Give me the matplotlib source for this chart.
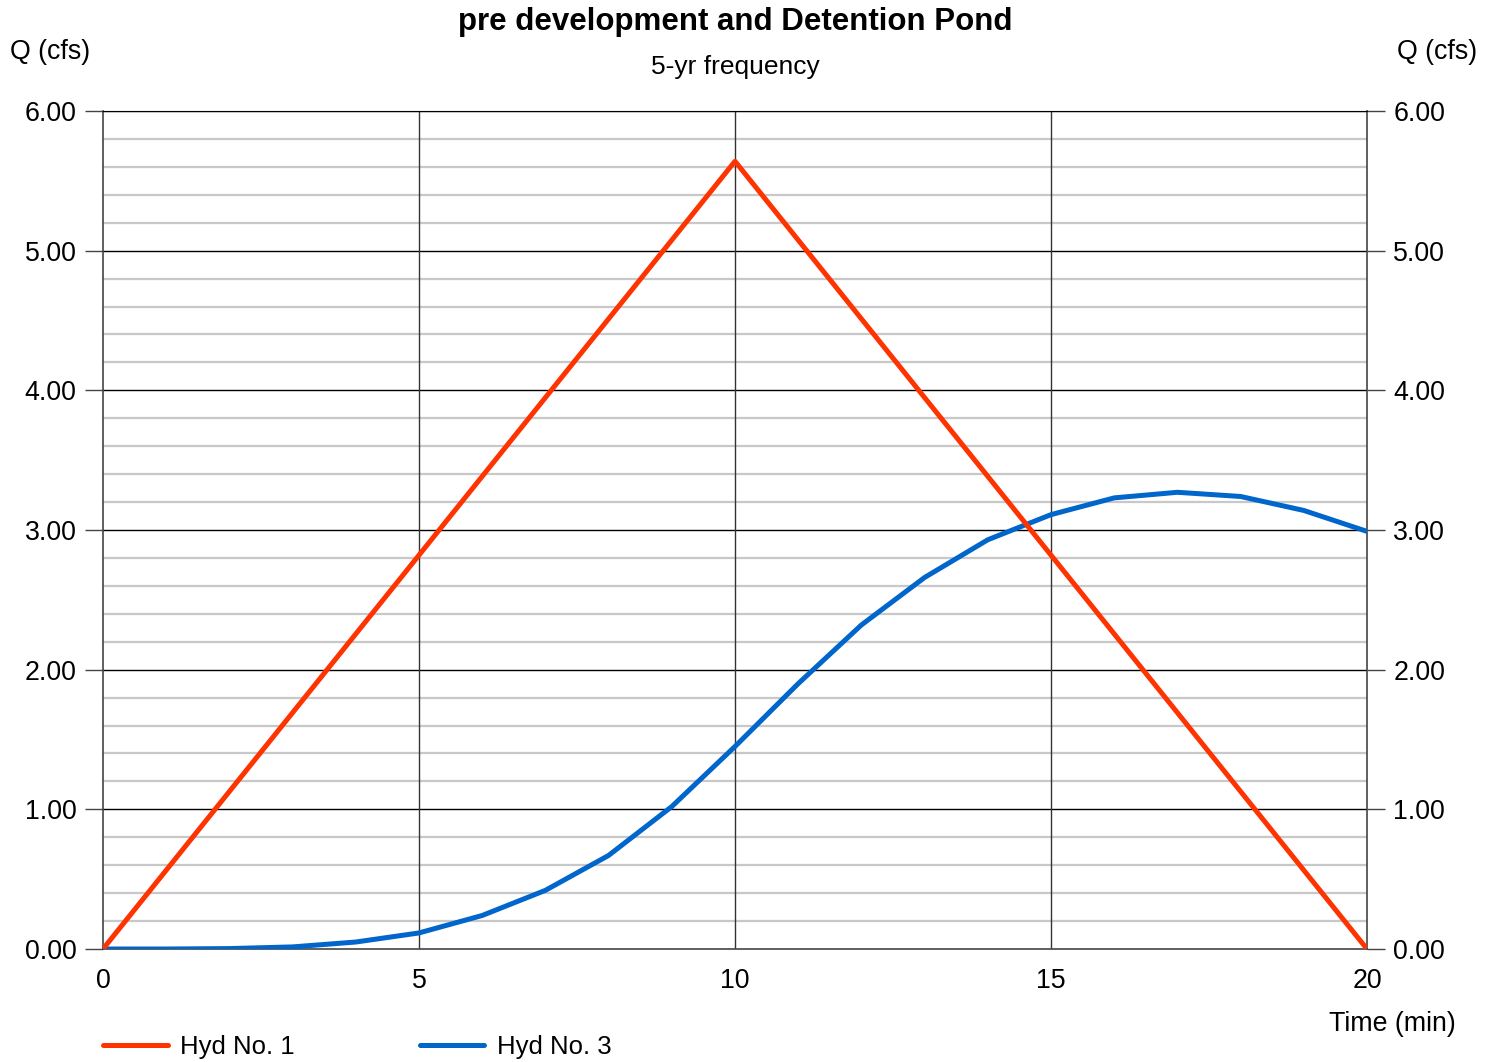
"""Hydrograph: pre development vs detention pond, 5-yr frequency."""

import matplotlib

matplotlib.use("Agg")

import matplotlib.pyplot as plt
import numpy as np

plt.rcParams["font.family"] = ["Liberation Sans", "DejaVu Sans"]

# data
hyd1_t = [0, 10, 20]
hyd1_q = [0.0, 5.64, 0.0]

hyd3_t = list(range(0, 21))
hyd3_q = [0.0, 0.0, 0.003, 0.015, 0.05, 0.115, 0.24, 0.42, 0.67, 1.02, 1.45,
          1.90, 2.32, 2.66, 2.93, 3.11, 3.23, 3.27, 3.24, 3.14, 2.99]

x_ticks = [0, 5, 10, 15, 20]
y_ticks = [0, 1, 2, 3, 4, 5, 6]

W, H = 1496, 1062
fs = 19.3
fig = plt.figure(figsize=(W / 100, H / 100), dpi=100)
ax = fig.add_axes([103 / W, 1 - 949 / H, (1367 - 103) / W, (949 - 111) / H])

ax.set_xlim(0, 20)
ax.set_ylim(0, 6)

# minor grid every 0.2
for y in np.arange(0.2, 6.0, 0.2):
    if abs(y - round(y)) > 1e-6:
        ax.axhline(y, color="#c8c8c8", linewidth=1.6, zorder=1)
for y in y_ticks[1:]:
    ax.axhline(y, color="black", linewidth=1.0, zorder=2)
for x in x_ticks[1:-1]:
    ax.axvline(x, color="#333333", linewidth=1.0, zorder=2)

ax.plot(hyd1_t, hyd1_q, color="#ff3300", linewidth=3.6, label="Hyd No. 1",
        zorder=4, solid_capstyle="round")
ax.plot(hyd3_t, hyd3_q, color="#0066cc", linewidth=3.6, label="Hyd No. 3",
        zorder=3, solid_capstyle="round")

for side in ["left", "right", "bottom"]:
    ax.spines[side].set_color("#444444")
    ax.spines[side].set_linewidth(1.2)
ax.spines["top"].set_color("black")

ax.set_xticks(x_ticks)
ax.set_xticklabels([str(v) for v in x_ticks])
ax.set_yticks(y_ticks)
ax.set_yticklabels([f"{v:.2f}" for v in y_ticks])
ax.tick_params(axis="x", length=0, pad=14, labelsize=fs)
ax.tick_params(axis="y", length=13, width=1.0, color="#444444", pad=6,
               labelsize=fs, right=True, labelright=True)

fig.text(735 / W, 1 - 22 / H, "pre development and Detention Pond", ha="center",
         va="center", fontsize=22.5, fontweight="bold")
fig.text(735 / W, 1 - 67 / H, "5-yr frequency", ha="center", va="center",
         fontsize=19)
fig.text(50 / W, 1 - 52 / H, "Q (cfs)", ha="center", va="center", fontsize=fs)
fig.text(1437 / W, 1 - 52 / H, "Q (cfs)", ha="center", va="center", fontsize=fs)
fig.text(1392 / W, 1 - 1024 / H, "Time (min)", ha="center", va="center",
         fontsize=fs)

fig.legend(loc="center left", bbox_to_anchor=(93 / W, 1 - 1047 / H), ncol=2,
           frameon=False, fontsize=18.5, handlelength=2.5, handletextpad=0.5,
           columnspacing=4.85, borderaxespad=0)

fig.savefig("out.png", dpi=100)
plt.close(fig)
